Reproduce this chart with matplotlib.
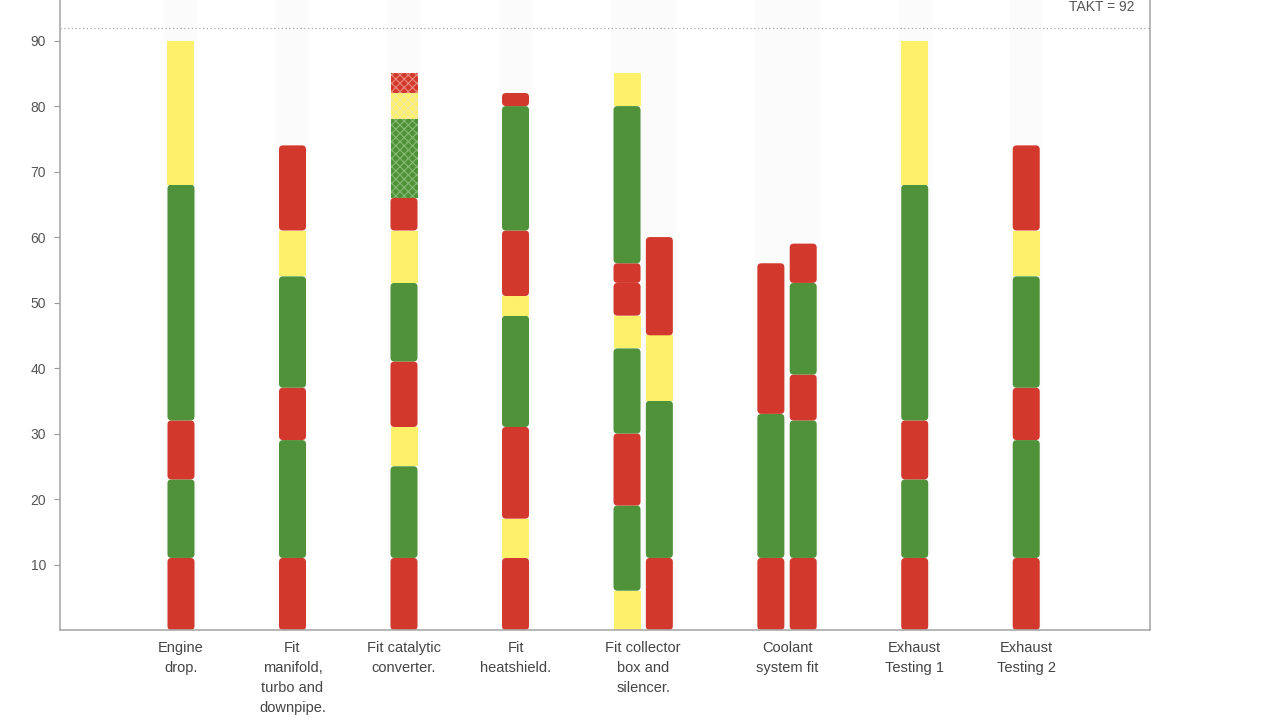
import numpy as np
import matplotlib.pyplot as plt
from matplotlib.patches import FancyBboxPatch

# process steps (x axis labels)
categories = ["Engine\ndrop.", "Fit\nmanifold,\nturbo and\ndownpipe.", "Fit catalytic\nconverter.",
              "Fit\nheatshield.", "Fit collector\nbox and\nsilencer.", "Coolant\nsystem fit",
              "Exhaust\nTesting 1", "Exhaust\nTesting 2"]
bars_per_step = [1, 1, 1, 1, 2, 2, 1, 1]

# segment durations (bottom -> top) and status: R/G/Y, lowercase = hatched
engine_drop = [11, 12, 9, 36, 22]
engine_drop_status = "RGRGY"
manifold = [11, 18, 8, 17, 7, 13]
manifold_status = "RGRGYR"
catalytic = [11, 14, 6, 10, 12, 8, 5, 12, 4, 3]
catalytic_status = "RGYRGYRgyr"
heatshield = [11, 6, 14, 17, 3, 10, 19, 2]
heatshield_status = "RYRGYRGR"
collector_a = [6, 13, 11, 13, 5, 5, 3, 24, 5]
collector_a_status = "YGRGYRRGY"
collector_b = [11, 24, 10, 15]
collector_b_status = "RGYR"
coolant_a = [11, 22, 23]
coolant_a_status = "RGR"
coolant_b = [11, 21, 7, 14, 6]
coolant_b_status = "RGRGR"
exhaust_1 = [11, 12, 9, 36, 22]
exhaust_1_status = "RGRGY"
exhaust_2 = [11, 18, 8, 17, 7, 13]
exhaust_2_status = "RGRGYR"

bars = [(engine_drop, engine_drop_status), (manifold, manifold_status),
        (catalytic, catalytic_status), (heatshield, heatshield_status),
        (collector_a, collector_a_status), (collector_b, collector_b_status),
        (coolant_a, coolant_a_status), (coolant_b, coolant_b_status),
        (exhaust_1, exhaust_1_status), (exhaust_2, exhaust_2_status)]

takt = 92

COLORS = {"R": "#d2392c", "G": "#4f9239", "Y": "#fdf06b"}
HATCH = {"R": "#e98a80", "G": "#86bb74", "Y": "#f1e6a8"}

plt.rcParams["font.family"] = ["Liberation Sans", "DejaVu Sans"]
plt.rcParams["hatch.linewidth"] = 0.8
fig = plt.figure(figsize=(12.8, 7.2), dpi=100)
ax = fig.add_axes([60 / 1280, 90 / 720, 1090 / 1280, 630 / 720])

# x positions: new step +1, extra bar inside same step +0.29
xs, centers = [], []
x = 0.0
for i, n in enumerate(bars_per_step):
    if i > 0:
        x += 1.0
    group = []
    for k in range(n):
        if k > 0:
            x += 0.29
        group.append(x)
    xs.extend(group)
    centers.append(np.mean(group))

ax.set_xlim(-1.085, 8.69)
ax.set_ylim(0, 96.2)

# rounding in pixels -> data via aspect
x_per_px = (8.69 + 1.085) / 1090
y_per_px = 96.2 / 630
aspect = y_per_px / x_per_px
width = 27 * x_per_px
r = 4 * x_per_px

for xc, (vals, status) in zip(xs, bars):
    ax.axvspan(xc - 16 * x_per_px, xc + 16 * x_per_px, color="#fbfbfb", zorder=0, lw=0)
    bottoms = np.concatenate([[0], np.cumsum(vals)[:-1]])
    for v, b, s in zip(vals, bottoms, status):
        key = s.upper()
        hatched = s.islower()
        if key == "Y" or hatched:
            style = "square,pad=0"
        else:
            style = f"round,pad=0,rounding_size={r}"
        p = FancyBboxPatch((xc - width / 2, b), width, v, boxstyle=style,
                           mutation_aspect=aspect, facecolor=COLORS[key],
                           edgecolor=HATCH[key] if hatched else "none",
                           hatch="xxxx" if hatched else None, lw=0, zorder=2)
        ax.add_patch(p)

ax.axhline(takt, color="#aaaaaa", ls=(0, (1, 2)), lw=0.9, zorder=1)
ax.text(0.986, 95.1, f"TAKT = {takt}", transform=ax.get_yaxis_transform(),
        ha="right", va="center", fontsize=10, color="#555555")

ax.set_yticks(range(10, 100, 10))
ax.tick_params(axis="y", length=4, color="#999999", labelcolor="#555555", labelsize=10, pad=6)
ax.set_xticks(centers)
ax.set_xticklabels(categories, fontsize=10.5, color="#444444", linespacing=1.55, va="top")
ax.tick_params(axis="x", length=0, pad=8)

for side in ["left", "bottom", "right"]:
    ax.spines[side].set_color("#aaaaaa")
    ax.spines[side].set_linewidth(1.2)
ax.spines["top"].set_visible(False)

fig.savefig("out.png", dpi=100)
